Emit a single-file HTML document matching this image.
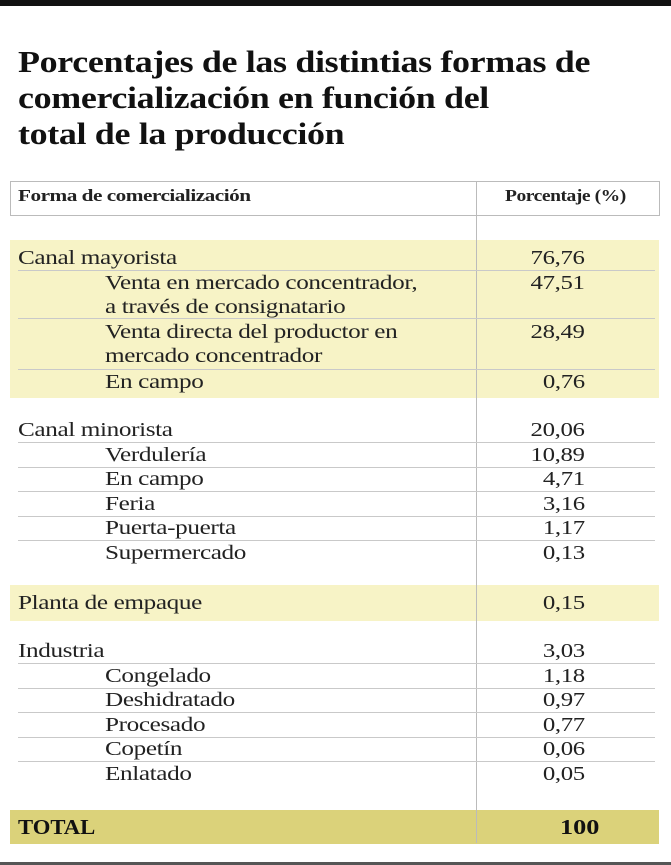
<!DOCTYPE html>
<html><head><meta charset="utf-8"><style>
body{margin:0;width:671px;height:865px;background:#fff;position:relative;overflow:hidden;font-family:"Liberation Serif",serif;color:#222}
.a{position:absolute}
.t{left:18px;font-weight:bold;font-size:31px;letter-spacing:-0.3px;color:#111;line-height:36px;transform:scaleX(1.16);transform-origin:left top;white-space:nowrap}
.r{position:absolute;left:0;font-size:20px;line-height:24px;letter-spacing:-0.3px;transform:scaleX(1.26);transform-origin:left top;white-space:nowrap}
.n{position:absolute;right:86px;font-size:20px;line-height:24px;text-align:right;letter-spacing:-0.3px;transform:scaleX(1.24);transform-origin:right top}
.ln{position:absolute;left:18px;width:637px;height:1px;background:#c9c9c9}
.band{position:absolute;left:10px;width:649px;background:#f7f3c6}
.h{position:absolute;top:186px;font-weight:bold;font-size:17px;letter-spacing:-0.4px;transform:scaleX(1.25);transform-origin:left top;white-space:nowrap}
</style></head><body>
<div class="a" style="left:0;top:0;width:671px;height:6px;background:#111"></div>
<div class="a t" style="top:44px">Porcentajes de las distintias formas de<br>comercialización en función del<br>total de la producción</div>
<div class="a" style="left:10px;top:181px;width:648px;height:33px;border:1px solid #bbb"></div>
<div class="h" style="left:18px">Forma de comercialización</div>
<div class="h" style="left:505px;transform:scaleX(1.15)">Porcentaje (%)</div>
<div class="band" style="top:240px;height:158px"></div>
<div class="band" style="top:585px;height:36px"></div>
<div class="a" style="left:10px;top:810px;width:649px;height:34px;background:#dbd27a"></div>
<div class="a" style="left:476px;top:181px;width:1px;height:662px;background:#bbb"></div>
<div class="a" style="left:0;top:862px;width:671px;height:3px;background:#555"></div>

<div class="r" style="left:18px;top:246px">Canal mayorista</div><div class="n" style="top:246px">76,76</div>
<div class="ln" style="top:270px"></div>
<div class="r" style="left:105px;top:271px">Venta en mercado concentrador,<br>a través de consignatario</div><div class="n" style="top:271px">47,51</div>
<div class="ln" style="top:318px"></div>
<div class="r" style="left:105px;top:320px">Venta directa del productor en<br>mercado concentrador</div><div class="n" style="top:320px">28,49</div>
<div class="ln" style="top:369px"></div>
<div class="r" style="left:105px;top:370px">En campo</div><div class="n" style="top:370px">0,76</div>

<div class="r" style="left:18px;top:418px">Canal minorista</div><div class="n" style="top:418px">20,06</div>
<div class="ln" style="top:442px"></div>
<div class="r" style="left:105px;top:443px">Verdulería</div><div class="n" style="top:443px">10,89</div>
<div class="ln" style="top:467px"></div>
<div class="r" style="left:105px;top:467px">En campo</div><div class="n" style="top:467px">4,71</div>
<div class="ln" style="top:491px"></div>
<div class="r" style="left:105px;top:492px">Feria</div><div class="n" style="top:492px">3,16</div>
<div class="ln" style="top:516px"></div>
<div class="r" style="left:105px;top:516px">Puerta-puerta</div><div class="n" style="top:516px">1,17</div>
<div class="ln" style="top:540px"></div>
<div class="r" style="left:105px;top:541px">Supermercado</div><div class="n" style="top:541px">0,13</div>

<div class="r" style="left:18px;top:591px">Planta de empaque</div><div class="n" style="top:591px">0,15</div>

<div class="r" style="left:18px;top:639px">Industria</div><div class="n" style="top:639px">3,03</div>
<div class="ln" style="top:663px"></div>
<div class="r" style="left:105px;top:664px">Congelado</div><div class="n" style="top:664px">1,18</div>
<div class="ln" style="top:688px"></div>
<div class="r" style="left:105px;top:688px">Deshidratado</div><div class="n" style="top:688px">0,97</div>
<div class="ln" style="top:712px"></div>
<div class="r" style="left:105px;top:713px">Procesado</div><div class="n" style="top:713px">0,77</div>
<div class="ln" style="top:737px"></div>
<div class="r" style="left:105px;top:737px">Copetín</div><div class="n" style="top:737px">0,06</div>
<div class="ln" style="top:761px"></div>
<div class="r" style="left:105px;top:762px">Enlatado</div><div class="n" style="top:762px">0,05</div>

<div class="a" style="left:18px;top:815px;font-weight:bold;font-size:21px;color:#111;transform:scaleX(1.08);transform-origin:left top">TOTAL</div>
<div class="a" style="left:560px;top:815px;font-weight:bold;font-size:21px;color:#111;transform:scaleX(1.25);transform-origin:left top">100</div>
</body></html>
